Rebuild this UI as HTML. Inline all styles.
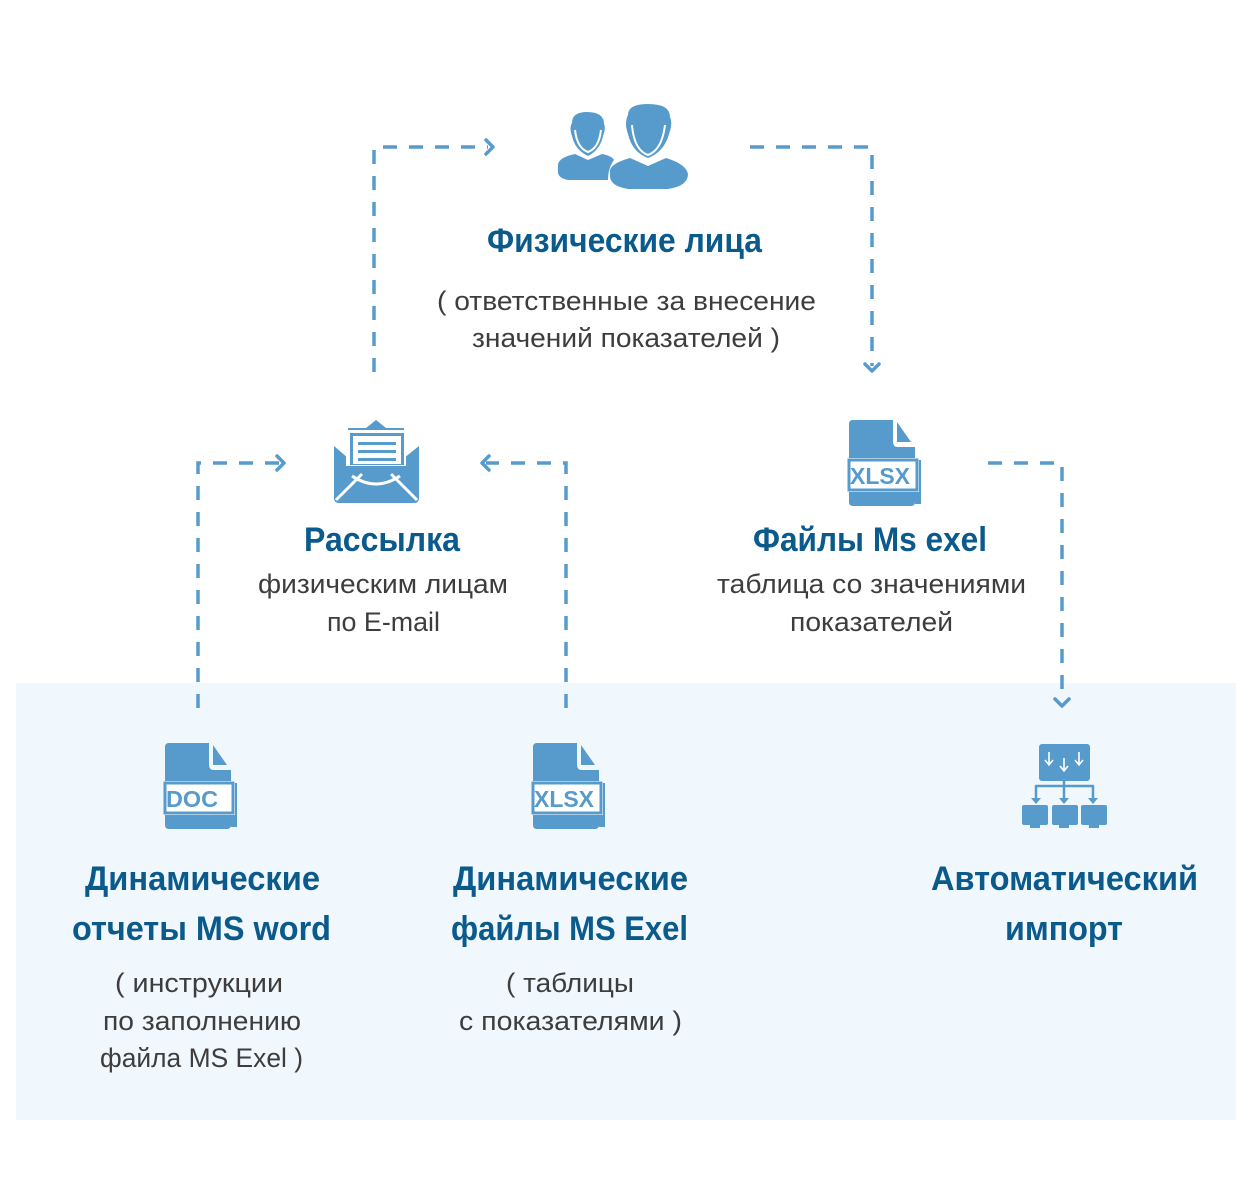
<!DOCTYPE html>
<html><head><meta charset="utf-8"><style>
html,body{margin:0;padding:0;background:#fff;}
svg{display:block}
.t{font-family:"Liberation Sans",sans-serif;font-size:34px;font-weight:bold;fill:#0b5a8c;}
.b{font-family:"Liberation Sans",sans-serif;font-size:27px;fill:#3d3d3d;}
.d{stroke:#579bcc;stroke-width:3.5;fill:none;stroke-dasharray:14 12;}
.a{stroke:#579bcc;stroke-width:3.5;fill:none;stroke-linecap:round;stroke-linejoin:round;}
.i{fill:#579bcc;}
</style></head><body>
<svg width="1251" height="1181" viewBox="0 0 1251 1181" xmlns="http://www.w3.org/2000/svg">
<defs>
<g id="file">
<path class="i" d="M0 4 Q0 0 4 0 H44 V22 Q44 27 49 27 H66 V40 H72 V84 H66 V82 Q66 86 62 86 H4 Q0 86 0 82 Z"/>
<path class="i" d="M48 2 L62 22 H48 Z"/>
<rect x="0" y="38" width="70" height="34" fill="#fff"/>
<rect x="0" y="40" width="68" height="30" class="i" style="fill:none;stroke:#579bcc;stroke-width:3"/>
</g>
</defs>
<rect x="16" y="683" width="1220" height="437" fill="#f0f7fd"/>

<!-- connectors -->
<path class="d" d="M374 372 V147 H488"/>
<path class="a" d="M486 140 L493 147 L486 154"/>
<path class="d" d="M750 147 H872 V366"/>
<path class="a" d="M865 364 L872 371 L879 364"/>
<path class="d" d="M198 708 V463 H280"/>
<path class="a" d="M277 456 L284 463 L277 470"/>
<path class="d" d="M566 708 V463 H486"/>
<path class="a" d="M489 456 L482 463 L489 470"/>
<path class="d" d="M988 463 H1062 V700"/>
<path class="a" d="M1055 699 L1062 706 L1069 699"/>

<!-- people icon -->
<path class="i" d="M572 123 Q572 112 587 112 Q604 112 604 124 Q606 128 603 136 Q600 150 588 156 Q575 150 572 136 Q569 128 572 123 Z"/>
<path class="i" d="M558 164 Q560 157 575 154 L588 160 L602 154 Q612 156 614 160 Q608 168 608 180 L568 180 Q558 178 558 172 Z"/>
<path class="i" d="M628 115 Q628 104 648 104 Q670 104 670 117 Q673 123 669 134 Q664 152 648 158 Q632 152 628 134 Q624 123 628 115 Z"/>
<path class="i" d="M610 170 Q612 163 630 158 L648 166 L666 158 Q686 164 688 174 Q688 186 668 189 L628 189 Q610 186 610 176 Z"/>
<path d="M632 125 Q634 150 648 155 Q662 150 665 125" stroke="#fff" stroke-width="2" fill="none"/>
<path d="M575 130 Q577 148 588 152 Q599 148 601 130" stroke="#fff" stroke-width="2" fill="none"/>

<!-- envelope -->
<path class="i" d="M376 420 L386 428 H404 V458 L419 446 V498 Q419 503 414 503 H339 Q334 503 334 498 V446 L348 458 V428 H366 Z"/>
<rect x="346" y="430" width="60" height="36" fill="#fff"/>
<rect x="350" y="433" width="54" height="32" class="i"/>
<rect x="353" y="436" width="48" height="28" fill="#fff"/>
<rect x="358" y="442" width="38" height="3" class="i"/>
<rect x="358" y="450" width="38" height="3" class="i"/>
<rect x="358" y="458" width="38" height="3" class="i"/>
<path d="M336 500 L362 474 M417 500 L391 474 M352 476 Q376 492 400 476" stroke="#fff" stroke-width="3" fill="none"/>

<!-- files -->
<g transform="translate(849,420)"><use href="#file"/><text x="1" y="64" font-family="Liberation Sans,sans-serif" font-weight="bold" font-size="23" fill="#579bcc" textLength="60" lengthAdjust="spacingAndGlyphs">XLSX</text></g>
<g transform="translate(165,743)"><use href="#file"/><text x="1" y="64" font-family="Liberation Sans,sans-serif" font-weight="bold" font-size="23" fill="#579bcc" textLength="52" lengthAdjust="spacingAndGlyphs">DOC</text></g>
<g transform="translate(533,743)"><use href="#file"/><text x="1" y="64" font-family="Liberation Sans,sans-serif" font-weight="bold" font-size="23" fill="#579bcc" textLength="60" lengthAdjust="spacingAndGlyphs">XLSX</text></g>

<!-- network icon -->
<rect x="1039" y="744" width="51" height="37" rx="3" class="i"/>
<path d="M1049 752 V764 M1045 760 L1049 765 L1053 760 M1064 758 V770 M1060 766 L1064 771 L1068 766 M1079 752 V764 M1075 760 L1079 765 L1083 760" stroke="#fff" stroke-width="1.6" fill="none"/>
<path class="a" style="stroke-width:2.5" d="M1064 781 V800 M1036 800 V786 H1093 V800"/>
<path class="i" d="M1031 798 H1041 L1036 804 Z M1059 798 H1069 L1064 804 Z M1088 798 H1098 L1093 804 Z"/>
<rect x="1022" y="805" width="26" height="20" rx="2" class="i"/>
<rect x="1052" y="805" width="26" height="20" rx="2" class="i"/>
<rect x="1081" y="805" width="26" height="20" rx="2" class="i"/>
<path class="i" d="M1030 825 h10 v3 h-10z M1059 825 h10 v3 h-10z M1089 825 h10 v3 h-10z"/>

<!-- text -->
<text class="t" x="487" y="252" textLength="275" lengthAdjust="spacingAndGlyphs">Физические лица</text>
<text class="b" x="437" y="310" textLength="379" lengthAdjust="spacingAndGlyphs">( ответственные за внесение</text>
<text class="b" x="472" y="347" textLength="308" lengthAdjust="spacingAndGlyphs">значений показателей )</text>

<text class="t" x="304" y="551" textLength="156" lengthAdjust="spacingAndGlyphs">Рассылка</text>
<text class="b" x="258" y="593" textLength="250" lengthAdjust="spacingAndGlyphs">физическим лицам</text>
<text class="b" x="327" y="631" textLength="113" lengthAdjust="spacingAndGlyphs">по E-mail</text>

<text class="t" x="753" y="551" textLength="234" lengthAdjust="spacingAndGlyphs">Файлы Ms exel</text>
<text class="b" x="717" y="593" textLength="309" lengthAdjust="spacingAndGlyphs">таблица со значениями</text>
<text class="b" x="790" y="631" textLength="163" lengthAdjust="spacingAndGlyphs">показателей</text>

<text class="t" x="85" y="890" textLength="235" lengthAdjust="spacingAndGlyphs">Динамические</text>
<text class="t" x="72" y="940" textLength="259" lengthAdjust="spacingAndGlyphs">отчеты MS word</text>
<text class="b" x="115" y="992" textLength="168" lengthAdjust="spacingAndGlyphs">( инструкции</text>
<text class="b" x="103" y="1030" textLength="198" lengthAdjust="spacingAndGlyphs">по заполнению</text>
<text class="b" x="100" y="1067" textLength="203" lengthAdjust="spacingAndGlyphs">файла MS Exel )</text>

<text class="t" x="453" y="890" textLength="235" lengthAdjust="spacingAndGlyphs">Динамические</text>
<text class="t" x="451" y="940" textLength="237" lengthAdjust="spacingAndGlyphs">файлы MS Exel</text>
<text class="b" x="506" y="992" textLength="128" lengthAdjust="spacingAndGlyphs">( таблицы</text>
<text class="b" x="459" y="1030" textLength="223" lengthAdjust="spacingAndGlyphs">с показателями )</text>

<text class="t" x="931" y="890" textLength="267" lengthAdjust="spacingAndGlyphs">Автоматический</text>
<text class="t" x="1005" y="940" textLength="118" lengthAdjust="spacingAndGlyphs">импорт</text>
</svg>
</body></html>
